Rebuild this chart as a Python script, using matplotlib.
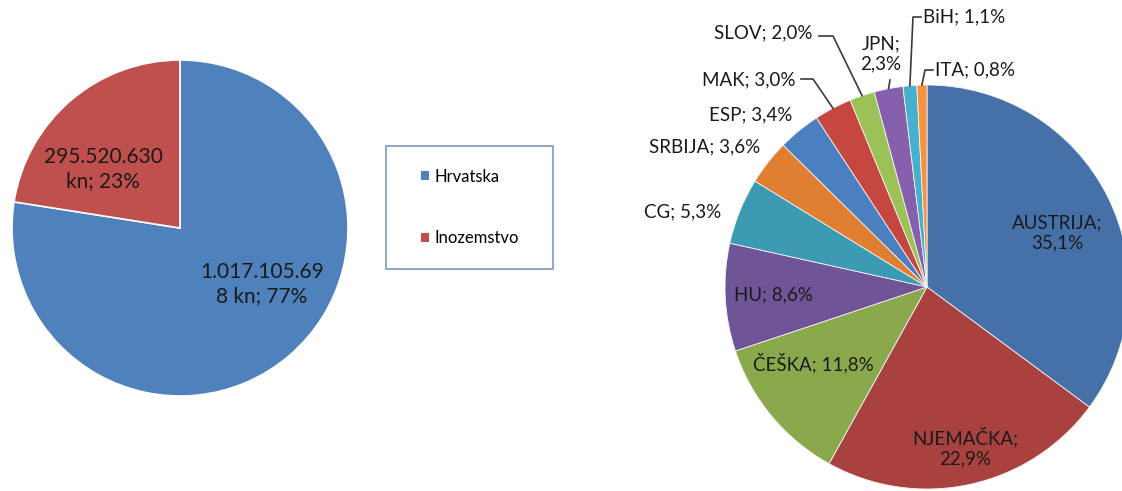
import numpy as np
import matplotlib.pyplot as plt
from matplotlib.patches import Rectangle

plt.rcParams['font.family'] = ['Lato', 'DejaVu Sans']

W, H = 1122, 491

# lijevi graf: Hrvatska / inozemstvo
regije = ['Hrvatska', 'Inozemstvo']
iznosi = [1017105698, 295520630]
oznake_lijevo = ['1.017.105.69\n8 kn; 77%', '295.520.630\nkn; 23%']
boje_lijevo = ['#4F81BD', '#C0504D']

# desni graf: udjeli po drzavama
drzave = ['AUSTRIJA', 'NJEMAČKA', 'ČEŠKA', 'HU', 'CG', 'SRBIJA',
          'ESP', 'MAK', 'SLOV', 'JPN', 'BiH', 'ITA']
udjeli = [35.1, 22.9, 11.8, 8.6, 5.3, 3.6, 3.4, 3.0, 2.0, 2.3, 1.1, 0.8]
boje_desno = ['#4671A8', '#A9423F', '#8AA94D', '#6F5597', '#3C9AB3', '#E07F32',
              '#4B7FC0', '#C6473F', '#9CC257', '#8660AC', '#47B0CC', '#F7923F']


def pie_axes(fig, cx, cy, r):
    ax = fig.add_axes([(cx - r) / W, (H - cy - r) / H, 2 * r / W, 2 * r / H])
    return ax


def to_data(p, cx, cy, r):
    return (p[0] - cx) / r, (cy - p[1]) / r


fig = plt.figure(figsize=(W / 100, H / 100), dpi=100)

# --- lijevi ---
lcx, lcy, lr = 180, 228, 168
axl = pie_axes(fig, lcx, lcy, lr)
wl, _ = axl.pie(iznosi, colors=boje_lijevo, startangle=90, counterclock=False,
                wedgeprops=dict(edgecolor='white', linewidth=1.2))
axl.set_xlim(-1, 1)
axl.set_ylim(-1, 1)
axl.axis('off')

poz_lijevo = [(262, 284), (103, 169)]
for txt, p in zip(oznake_lijevo, poz_lijevo):
    x, y = to_data(p, lcx, lcy, lr)
    axl.text(x, y, txt, ha='center', va='center', fontsize=15,
             color='#1a1a1a', linespacing=1.3)

# legenda u okviru
okvir = Rectangle((386 / W, 1 - 269 / H), 167 / W, 123 / H,
                  transform=fig.transFigure, fill=False,
                  edgecolor='#8EA8CA', linewidth=1.4)
fig.add_artist(okvir)
leg = fig.legend(wl, regije, loc='center',
                 bbox_to_anchor=(470 / W, 1 - 207.5 / H),
                 fontsize=12, frameon=False,
                 handlelength=0.5, handleheight=0.5,
                 handletextpad=0.35, labelspacing=2.75, borderpad=0,
                 borderaxespad=0)
for h in leg.legend_handles:
    h.set_edgecolor('none')

# --- desni ---
rcx, rcy, rr = 927, 287, 202
axr = pie_axes(fig, rcx, rcy, rr)
wr, _ = axr.pie(udjeli, colors=boje_desno, startangle=90, counterclock=False,
                wedgeprops=dict(edgecolor='#f4f4f4', linewidth=0.6))
axr.set_xlim(-1, 1)
axr.set_ylim(-1, 1)
axr.axis('off')

# pozicije oznaka (px), prijelom reda
poz_desno = {
    'AUSTRIJA': ((1057, 233), True, 'center'),
    'NJEMAČKA': ((965, 447), True, 'center'),
    'ČEŠKA': ((813, 363), False, 'center'),
    'HU': ((773, 295), False, 'center'),
    'CG': ((683, 212), False, 'center'),
    'SRBIJA': ((705, 147), False, 'center'),
    'ESP': ((751, 115), False, 'center'),
    'MAK': ((749, 80), False, 'center'),
    'SLOV': ((763, 33), False, 'center'),
    'JPN': ((881, 54), True, 'center'),
    'BiH': ((923, 17), False, 'left'),
    'ITA': ((935, 70), False, 'left'),
}
# vodilice: tocke (px) od oznake do ruba isjecka
vodilice = {
    'MAK': [(801, 79), (813, 79)],
    'SLOV': [(819, 36), (833, 36)],
    'JPN': [(890, 80)],
    'BiH': [(921, 17), (913, 17)],
    'ITA': [(933, 70), (925, 70)],
}

for w, ime, u in zip(wr, drzave, udjeli):
    (p, dva_reda, ha) = poz_desno[ime]
    vr = f'{u:.1f}'.replace('.', ',') + '%'
    txt = f'{ime};\n{vr}' if dva_reda else f'{ime}; {vr}'
    x, y = to_data(p, rcx, rcy, rr)
    axr.text(x, y, txt, ha=ha, va='center', fontsize=13.5, color='#1a1a1a',
             linespacing=1.25, clip_on=False)
    if ime in vodilice:
        th = np.deg2rad((w.theta1 + w.theta2) / 2)
        pts = [to_data(q, rcx, rcy, rr) for q in vodilice[ime]]
        pts.append((np.cos(th), np.sin(th)))
        xs, ys = zip(*pts)
        axr.plot(xs, ys, color='#3a3a3a', lw=1.2, clip_on=False)

fig.savefig('out.png', dpi=100)
